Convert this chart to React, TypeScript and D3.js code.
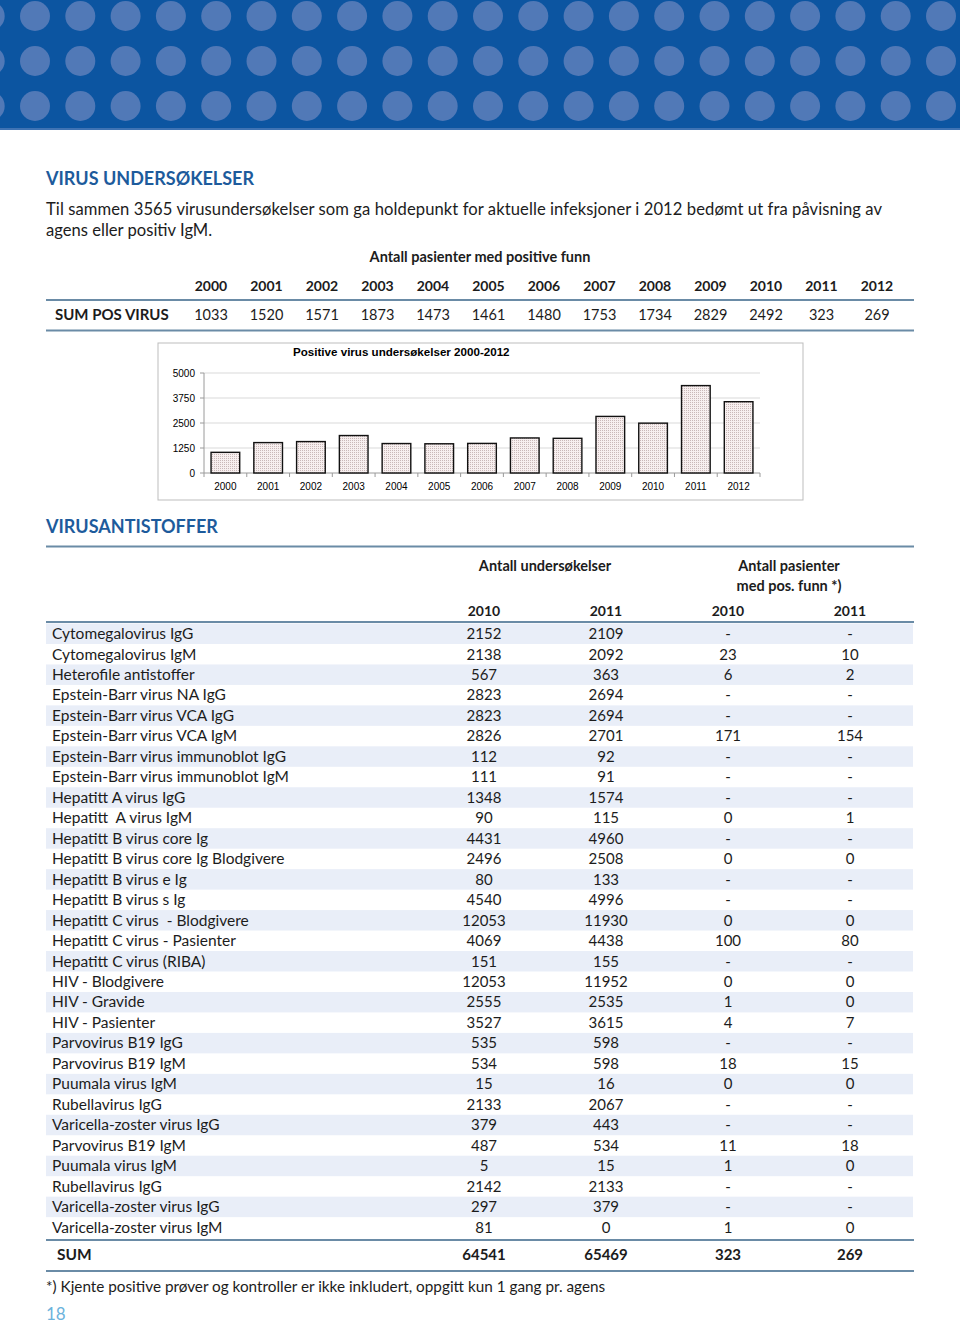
import React from 'react';
import * as d3 from 'd3';

const years = ['2000', '2001', '2002', '2003', '2004', '2005', '2006', '2007', '2008', '2009', '2010', '2011', '2012'];
const sumPosVirus = [1033, 1520, 1571, 1873, 1473, 1461, 1480, 1753, 1734, 2829, 2492, 323, 269];
const chartValues = [1033, 1520, 1571, 1873, 1473, 1461, 1480, 1753, 1734, 2829, 2492, 4370, 3565];
const yTicks = [0, 1250, 2500, 3750, 5000];

const testNames = [
  'Cytomegalovirus IgG',
  'Cytomegalovirus IgM',
  'Heterofile antistoffer',
  'Epstein-Barr virus NA IgG',
  'Epstein-Barr virus VCA IgG',
  'Epstein-Barr virus VCA IgM',
  'Epstein-Barr virus immunoblot IgG',
  'Epstein-Barr virus immunoblot IgM',
  'Hepatitt A virus IgG',
  'Hepatitt  A virus IgM',
  'Hepatitt B virus core Ig',
  'Hepatitt B virus core Ig Blodgivere',
  'Hepatitt B virus e Ig',
  'Hepatitt B virus s Ig',
  'Hepatitt C virus  - Blodgivere',
  'Hepatitt C virus - Pasienter',
  'Hepatitt C virus (RIBA)',
  'HIV - Blodgivere',
  'HIV - Gravide',
  'HIV - Pasienter',
  'Parvovirus B19 IgG',
  'Parvovirus B19 IgM',
  'Puumala virus IgM',
  'Rubellavirus IgG',
  'Varicella-zoster virus IgG',
  'Parvovirus B19 IgM',
  'Puumala virus IgM',
  'Rubellavirus IgG',
  'Varicella-zoster virus IgG',
  'Varicella-zoster virus IgM',
];
const tests2010 = ['2152', '2138', '567', '2823', '2823', '2826', '112', '111', '1348', '90', '4431', '2496', '80', '4540', '12053', '4069', '151', '12053', '2555', '3527', '535', '534', '15', '2133', '379', '487', '5', '2142', '297', '81'];
const tests2011 = ['2109', '2092', '363', '2694', '2694', '2701', '92', '91', '1574', '115', '4960', '2508', '133', '4996', '11930', '4438', '155', '11952', '2535', '3615', '598', '598', '16', '2067', '443', '534', '15', '2133', '379', '0'];
const pos2010 = ['-', '23', '6', '-', '-', '171', '-', '-', '-', '0', '-', '0', '-', '-', '0', '100', '-', '0', '1', '4', '-', '18', '0', '-', '-', '11', '1', '-', '-', '1'];
const pos2011 = ['-', '10', '2', '-', '-', '154', '-', '-', '-', '1', '-', '0', '-', '-', '0', '80', '-', '0', '0', '7', '-', '15', '0', '-', '-', '18', '0', '-', '-', '0'];
const sumLabels = ['64541', '65469', '323', '269'];
const subYears = ['2010', '2011', '2010', '2011'];
const colKeys = ['u10', 'u11', 'p10', 'p11'];

export default function App() {
  const W = 960;
  const H = 1326;
  const blue = '#1d5b9c';
  const rule = '#6a8ba6';
  const ink = '#1c1c1c';
  const font = "Lato, 'Open Sans', sans-serif";
  const arial = "'Liberation Sans', Arial, sans-serif";

  const topX = d3.scalePoint<string>().domain(years).range([211, 877]);

  const cx = d3.scaleBand<string>().domain(years).range([204, 760]).paddingInner(0.33).paddingOuter(0.165);
  const cy = d3.scaleLinear().domain([0, 5000]).range([473, 373]);
  const boundaries = years.map((y) => (cx(y) as number) + cx.bandwidth() / 2 - cx.step() / 2);
  boundaries.push(760);

  const colX = d3.scalePoint<string>().domain(colKeys).range([484, 850]);
  const rowY = d3.scaleBand<number>().domain(d3.range(testNames.length)).range([623.5, 623.5 + 20.47 * testNames.length]);

  const dotCols = d3.range(-1, 22);
  const dotRows = [16, 61, 106];

  const rows = testNames.map((n, i) => ({ name: n, vals: [tests2010[i], tests2011[i], pos2010[i], pos2011[i]] }));

  return (
    <svg width={W} height={H} viewBox={`0 0 ${W} ${H}`} style={{ position: 'absolute', left: 0, top: 0, background: '#fff' }}>
      <defs>
        <pattern id="dots" width={2} height={2} patternUnits="userSpaceOnUse">
          <rect width={2} height={2} fill="#f7efef" />
          <rect width={1} height={1} fill="#c9b8b8" />
        </pattern>
      </defs>

      {/* banner */}
      <rect x={0} y={0} width={W} height={128} fill="#0c55a1" />
      <rect x={0} y={128} width={W} height={2} fill="#3f73b4" />
      {dotRows.map((ry) =>
        dotCols.map((c) => <circle key={`${ry}-${c}`} cx={35 + c * 45.3} cy={ry} r={15} fill="#5179b7" />)
      )}

      {/* section 1 */}
      <text x={46} y={184.5} fontFamily={font} fontWeight={700} fontSize={18} fill={blue}>VIRUS UNDERSØKELSER</text>
      <text x={46} y={215} fontFamily={font} fontSize={16.6} fill={ink} textLength={836} lengthAdjust="spacing">Til sammen 3565 virusundersøkelser som ga holdepunkt for aktuelle infeksjoner i 2012 bedømt ut fra påvisning av</text>
      <text x={46} y={236} fontFamily={font} fontSize={16.6} fill={ink}>agens eller positiv IgM.</text>
      <text x={480} y={262} textAnchor="middle" fontFamily={font} fontWeight={700} fontSize={14.5} fill={ink}>Antall pasienter med positive funn</text>
      {years.map((y) => (
        <text key={y} x={topX(y)} y={291} textAnchor="middle" fontFamily={font} fontWeight={700} fontSize={14} fill={ink}>{y}</text>
      ))}
      <line x1={46} x2={914} y1={300} y2={300} stroke={rule} strokeWidth={2} />
      <text x={55} y={320} fontFamily={font} fontWeight={700} fontSize={15} fill={ink}>SUM POS VIRUS</text>
      {years.map((y, i) => (
        <text key={y} x={topX(y)} y={320} textAnchor="middle" fontFamily={font} fontSize={14.5} fill={ink}>{sumPosVirus[i]}</text>
      ))}
      <line x1={46} x2={914} y1={330.5} y2={330.5} stroke={rule} strokeWidth={2} />

      {/* chart */}
      <rect x={158} y={343} width={645} height={157} fill="#fff" stroke="#bdbdbd" strokeWidth={1} />
      <text x={293} y={356} fontFamily={arial} fontWeight={700} fontSize={11.6} fill="#000">Positive virus undersøkelser 2000-2012</text>
      {yTicks.filter((t) => t > 0).map((t) => (
        <line key={t} x1={204} x2={760} y1={cy(t)} y2={cy(t)} stroke="#d9d9d9" strokeWidth={1} />
      ))}
      <line x1={204} x2={204} y1={cy(5000)} y2={cy(0)} stroke="#9a9a9a" strokeWidth={1} />
      {yTicks.map((t) => (
        <g key={t}>
          <line x1={200} x2={204} y1={cy(t)} y2={cy(t)} stroke="#9a9a9a" />
          <text x={195} y={cy(t) + 3.6} textAnchor="end" fontFamily={arial} fontSize={10} fill="#000">{t}</text>
        </g>
      ))}
      <line x1={204} x2={760} y1={cy(0)} y2={cy(0)} stroke="#9a9a9a" strokeWidth={1} />
      {boundaries.map((b, i) => (
        <line key={i} x1={b} x2={b} y1={cy(0)} y2={cy(0) + 4} stroke="#9a9a9a" />
      ))}
      {years.map((y, i) => (
        <rect key={y} x={cx(y)} y={cy(chartValues[i])} width={cx.bandwidth()} height={cy(0) - cy(chartValues[i])} fill="url(#dots)" stroke="#111" strokeWidth={1.4} />
      ))}
      {years.map((y) => (
        <text key={y} x={(cx(y) as number) + cx.bandwidth() / 2} y={489.5} textAnchor="middle" fontFamily={arial} fontSize={10} fill="#000">{y}</text>
      ))}

      {/* section 2 */}
      <text x={46} y={533} fontFamily={font} fontWeight={700} fontSize={18} fill={blue}>VIRUSANTISTOFFER</text>
      <line x1={46} x2={914} y1={546.5} y2={546.5} stroke={rule} strokeWidth={2} />
      <text x={545} y={571} textAnchor="middle" fontFamily={font} fontWeight={700} fontSize={14.5} fill={ink}>Antall undersøkelser</text>
      <text x={789} y={571} textAnchor="middle" fontFamily={font} fontWeight={700} fontSize={14.5} fill={ink}>Antall pasienter</text>
      <text x={789} y={591} textAnchor="middle" fontFamily={font} fontWeight={700} fontSize={14.5} fill={ink}>med pos. funn *)</text>
      {colKeys.map((k, i) => (
        <text key={k} x={colX(k)} y={616} textAnchor="middle" fontFamily={font} fontWeight={700} fontSize={14} fill={ink}>{subYears[i]}</text>
      ))}
      <line x1={46} x2={914} y1={622} y2={622} stroke={rule} strokeWidth={2} />
      {rows.map((r, i) => {
        const y0 = rowY(i) as number;
        const yc = y0 + rowY.bandwidth() / 2;
        return (
          <g key={i}>
            {i % 2 === 0 && <rect x={46} y={y0} width={867} height={rowY.bandwidth()} fill="#e9eef8" />}
            <text x={52} y={yc + 5.3} fontFamily={font} fontSize={15.5} fill={ink} style={{ whiteSpace: 'pre' }}>{r.name}</text>
            {r.vals.map((v, j) => (
              <text key={j} x={colX(colKeys[j])} y={yc + 5.3} textAnchor="middle" fontFamily={font} fontSize={15} fill={ink}>{v}</text>
            ))}
          </g>
        );
      })}
      <line x1={46} x2={914} y1={1240} y2={1240} stroke={rule} strokeWidth={2} />
      <text x={57} y={1259.5} fontFamily={font} fontWeight={700} fontSize={15.5} fill={ink}>SUM</text>
      {colKeys.map((k, i) => (
        <text key={k} x={colX(k)} y={1259.5} textAnchor="middle" fontFamily={font} fontWeight={700} fontSize={15} fill={ink}>{sumLabels[i]}</text>
      ))}
      <line x1={46} x2={914} y1={1271} y2={1271} stroke={rule} strokeWidth={2} />
      <text x={46} y={1292} fontFamily={font} fontSize={15.3} fill={ink}>*) Kjente positive prøver og kontroller er ikke inkludert, oppgitt kun 1 gang pr. agens</text>
      <text x={46} y={1320} fontFamily={font} fontSize={17} fill="#6cb3dc">18</text>
    </svg>
  );
}
